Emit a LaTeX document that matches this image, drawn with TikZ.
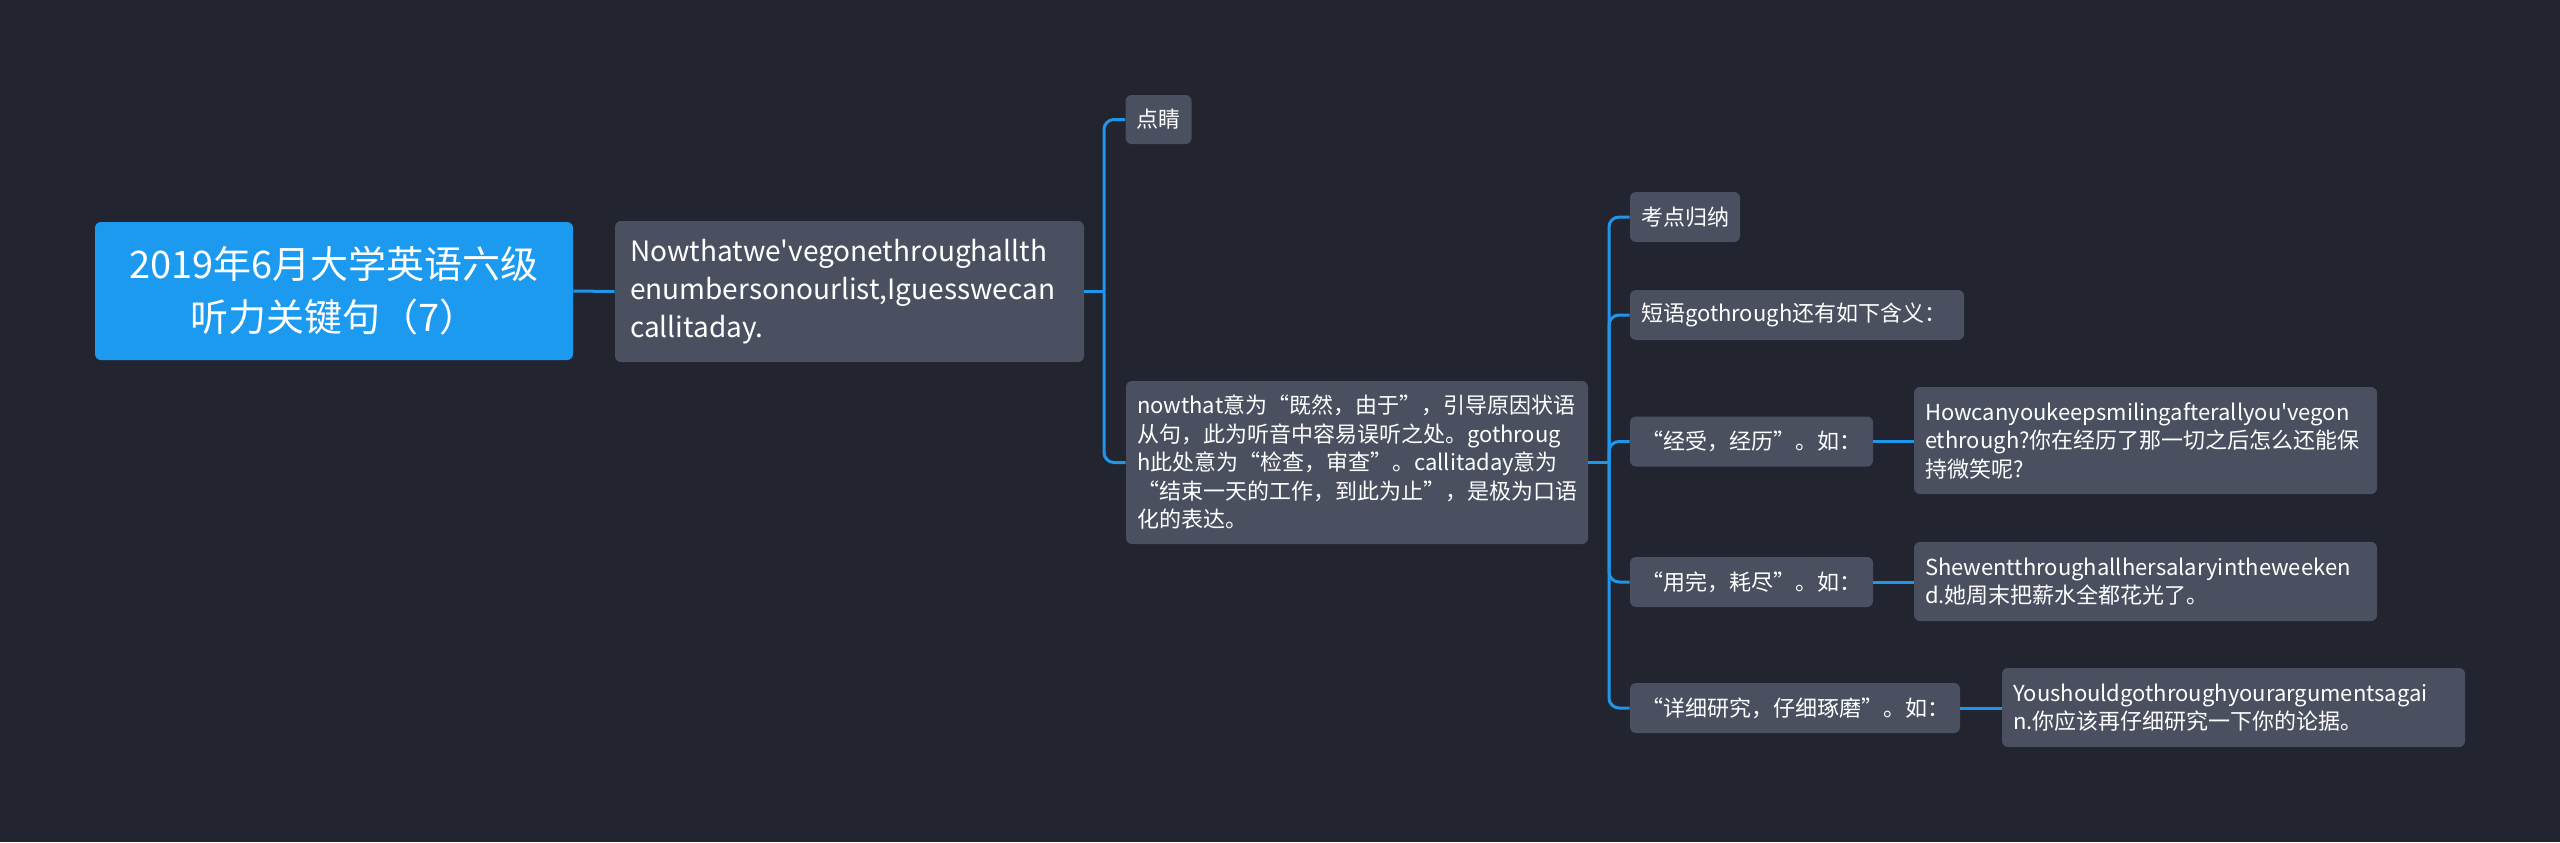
\documentclass[tikz,border=0pt]{standalone}
\usepackage{fontspec}
\setmainfont{Noto Sans CJK SC}[Ligatures=TeXOff]
\usepackage{xcolor}
\usepackage{tikz}
\usetikzlibrary{positioning}

\definecolor{bgdark}{RGB}{34,37,48}
\definecolor{boxgray}{RGB}{74,80,96}
\definecolor{linkblue}{RGB}{30,150,235}
\definecolor{rootblue}{RGB}{28,154,240}

\tikzset{
  topic/.style={rectangle, rounded corners=3pt, fill=boxgray, text=white,
    inner xsep=5.5pt, inner ysep=0pt, align=left,
    font=\fontsize{11}{14.25}\selectfont},
  leaf/.style={topic, minimum height=25pt},
  link/.style={draw=linkblue, line width=1.5pt, rounded corners=5pt}
}

\begin{document}
\begin{tikzpicture}[x=0.5pt, y=-0.5pt]
        \fill[bgdark] (0,0) rectangle (2560,842);

        % root and first level
        \node[topic, fill=rootblue, inner xsep=0pt, align=center, text width=239pt, minimum height=69pt,
              font=\fontsize{19}{26.5}\selectfont] (root) at (334,291)
              {2019年6月大学英语六级\\听力关键句（7）};
        \node[topic, inner xsep=7.5pt, text width=219.5pt, minimum height=70.5pt,
              font=\fontsize{14}{19}\selectfont] (sentence) at (849.5,291.5)
              {Nowthatwe'vegonethroughallth\\enumbersonourlist,Iguesswecan\\callitaday.};
        \coordinate (hubA) at (1104,291.5);

        % second level
        \node[leaf, text width=22pt, minimum height=24.5pt] (dianjing) at (1158.5,119.5) {点睛};
        \node[topic, text width=220pt, minimum height=81.5pt] (note) at (1357,462.5)
              {nowthat意为“既然，由于”，引导原因状语\\从句，此为听音中容易误听之处。gothroug\\h此处意为“检查，审查”。callitaday意为\\“结束一天的工作，到此为止”，是极为口语\\化的表达。};
        \coordinate (hubB) at (1609,462.5);

        % third level
        \node[leaf, text width=44pt] (kaodian) at (1685,217) {考点归纳};
        \node[leaf, text width=156pt] (duanyu) at (1797,315) {短语gothrough还有如下含义：};
        \node[leaf, text width=110.5pt] (jingshou) at (1751.5,441.5) {“经受，经历”。如：};
        \node[leaf, text width=110.5pt] (yongwan) at (1751.5,582) {“用完，耗尽”。如：};
        \node[leaf, text width=154pt] (xiangxi) at (1795,708) {“详细研究，仔细琢磨”。如：};

        % examples
        \node[topic, text width=220.5pt, minimum height=53.5pt] (exA) at (2145.5,440.5)
              {Howcanyoukeepsmilingafterallyou'vegon\\ethrough?你在经历了那一切之后怎么还能保\\持微笑呢?};
        \node[topic, text width=220.5pt, minimum height=39.5pt] (exB) at (2145.5,581.5)
              {Shewentthroughallhersalaryintheweeken\\d.她周末把薪水全都花光了。};
        \node[topic, text width=220.5pt, minimum height=39.5pt] (exC) at (2233.5,707.5)
              {Youshouldgothroughyourargumentsagai\\n.你应该再仔细研究一下你的论据。};

        % connectors
        \draw[link] (root.east) -- (sentence.west);
        \draw[link] (sentence.east) -- (hubA);
        \draw[link] (hubA) |- (dianjing.west);
        \draw[link] (hubA) |- (note.west);
        \draw[link] (note.east) -- (hubB);
        \foreach \n in {kaodian, duanyu, jingshou, yongwan, xiangxi} {
            \draw[link] (hubB) |- (\n.west);
        }
        \draw[link] (jingshou.east) -- (jingshou.east -| exA.west);
        \draw[link] (yongwan.east) -- (yongwan.east -| exB.west);
        \draw[link] (xiangxi.east) -- (xiangxi.east -| exC.west);
    \end{tikzpicture}
\end{document}
